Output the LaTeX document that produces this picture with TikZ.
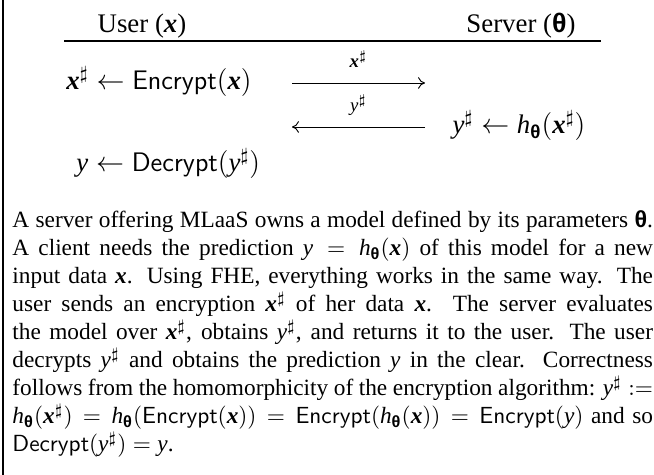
\documentclass[tikz,border=0pt]{standalone}
\usepackage{amsmath}
\usepackage{fontspec}
\setmainfont{Liberation Serif}
\newfontfamily\thetafont{Liberation Sans}
\usetikzlibrary{arrows.meta}
\newcommand{\myx}{\text{\normalfont\bfseries\itshape x}}
\newcommand{\myy}{\text{\normalfont\itshape y}}
\newcommand{\myth}{\text{\thetafont\bfseries θ}}
\newcommand{\myh}{\text{\normalfont\itshape h}_{\myth}}
\newcommand{\myenc}{\text{\normalfont\sffamily Encrypt}}
\newcommand{\mydec}{\text{\normalfont\sffamily Decrypt}}
\begin{document}
\begin{tikzpicture}[x=0.429pt,y=-0.429pt,
  topfont/.style={inner sep=0pt, font=\fontsize{11.5}{13.8}\selectfont},
  para/.style={inner sep=0pt, anchor=base west, text width=274.8pt, align=justify,
               font=\fontsize{10}{12}\selectfont},
  rulestyle/.style={line width=0.45pt},
  framestyle/.style={line width=0.5pt},
  arr/.style={line width=0.4pt, -{Computer Modern Rightarrow[length=3pt,width=5pt]}},
  lab/.style={midway, anchor=base, yshift=6.8pt, inner sep=0pt, font=\fontsize{11.5}{13.8}\selectfont}]
\path[use as bounding box] (0,0) rectangle (654,475);
% frame (left side only visible)
\coordinate (b1) at (3,0);
\coordinate (b2) at (3,475);
\draw[framestyle] (b1) -- (b2);
% header
\node[topfont, anchor=base] (user) at (142,33) {User ($\myx$)};
\node[topfont, anchor=base] (server) at (521,33) {Server ($\myth$)};
\coordinate (rl) at (64,41);
\coordinate (rr) at (601,41);
\draw[rulestyle] (rl) -- (rr);
% protocol
\node[topfont, anchor=base west] (enc) at (66,90) {$\myx^{\sharp}\leftarrow\myenc(\myx)$};
\node[topfont, anchor=base] (hx) at (519,134) {$\myy^{\sharp}\leftarrow\myh(\myx^{\sharp})$};
\node[topfont, anchor=base west] (dec) at (76,172) {$\myy\leftarrow\mydec(\myy^{\sharp})$};
\coordinate (a1s) at (292,83);
\coordinate (a1e) at (425,83);
\draw[arr] (a1s) -- node[lab] (l1) {$\scriptstyle\myx^{\sharp}$} (a1e);
\coordinate (a2s) at (425,127);
\coordinate (a2e) at (292,127);
\draw[arr] (a2s) -- node[lab] (l2) {$\scriptstyle\myy^{\sharp}$} (a2e);
% paragraph
\node[para] (txt) at (12,228) {A server offering MLaaS owns a model defined by its parameters $\myth$.\linebreak
A client needs the prediction $\myy=\myh(\myx)$ of this model for a new\linebreak
input data $\myx$. Using FHE, everything works in the same way. The\linebreak
user sends an encryption $\myx^{\sharp}$ of her data $\myx$.  The server evaluates\linebreak
the model over $\myx^{\sharp}$, obtains $\myy^{\sharp}$, and returns it to the user. The user\linebreak
decrypts $\myy^{\sharp}$ and obtains the prediction $\myy$ in the clear. Correctness\linebreak
follows from the homomorphicity of the encryption algorithm: $\myy^{\sharp}:=$\linebreak
$\myh(\myx^{\sharp})=\myh(\myenc(\myx))=\myenc(\myh(\myx))=\myenc(\myy)$ and so\linebreak
$\mydec(\myy^{\sharp})=\myy$.};
\end{tikzpicture}
\end{document}
